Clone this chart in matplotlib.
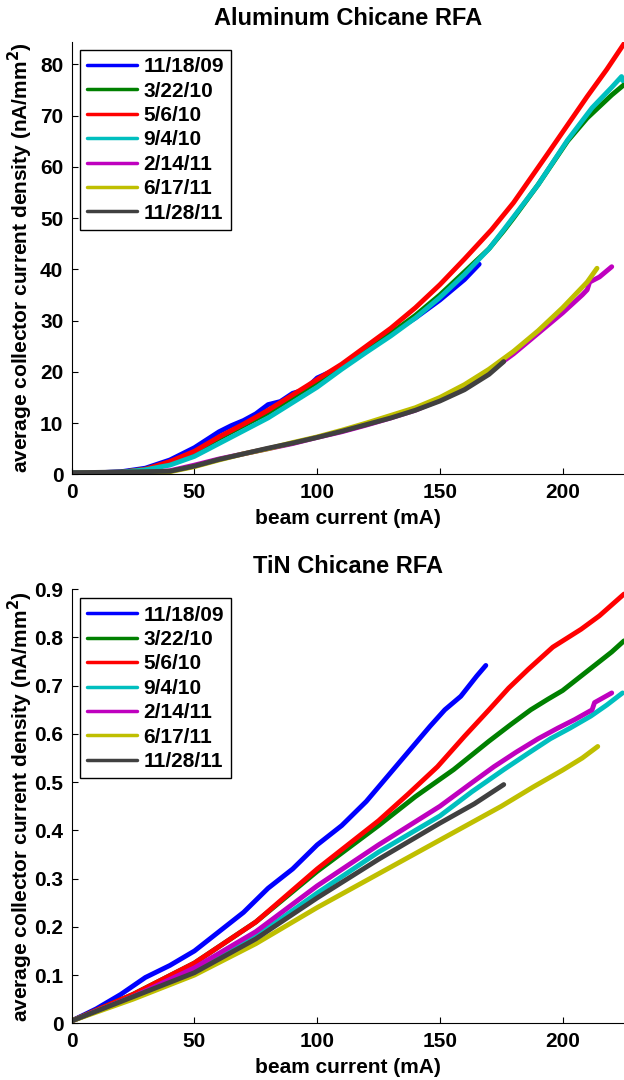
import numpy as np
import matplotlib.pyplot as plt

plt.rcParams['font.family'] = ['Liberation Sans', 'DejaVu Sans']
plt.rcParams['font.weight'] = 'bold'
plt.rcParams['font.size'] = 15
plt.rcParams['mathtext.default'] = 'bf'

labels = ['11/18/09', '3/22/10', '5/6/10', '9/4/10', '2/14/11', '6/17/11', '11/28/11']
colors = [(0, 0, 1), (0, 0.5, 0), (1, 0, 0), (0, 0.75, 0.75),
          (0.75, 0, 0.75), (0.75, 0.75, 0), (0.25, 0.25, 0.25)]

# Aluminum chicane RFA: beam current (mA) vs collector current density (nA/mm^2)
al_x = [
    [0, 10, 20, 30, 40, 50, 60, 65, 70, 75, 80, 85, 90, 95, 100, 110, 120, 130, 140, 150, 160, 166],
    [0, 20, 30, 40, 50, 60, 70, 80, 90, 100, 110, 120, 130, 140, 150, 160, 170, 176, 180, 190, 202, 210, 220, 225],
    [0, 20, 30, 40, 50, 60, 70, 80, 90, 100, 110, 120, 130, 140, 150, 160, 171, 180, 194, 210, 218, 225],
    [0, 20, 30, 40, 50, 60, 70, 80, 90, 100, 110, 120, 130, 140, 150, 160, 170, 176, 190, 202, 212, 220, 224, 224.5],
    [0, 30, 40, 50, 60, 70, 80, 90, 100, 110, 120, 130, 140, 150, 160, 170, 180, 190, 200, 208, 210, 211, 215, 220],
    [0, 40, 50, 60, 70, 80, 90, 100, 110, 120, 130, 140, 150, 160, 170, 180, 190, 200, 210, 214],
    [0, 40, 50, 60, 70, 80, 90, 100, 110, 120, 130, 140, 150, 160, 170, 176],
]
al_y = [
    [0.3, 0.3, 0.5, 1.2, 2.8, 5.2, 8.3, 9.5, 10.5, 11.8, 13.6, 14.2, 15.8, 16.5, 18.8, 21, 24, 27.5, 30.5, 34, 38, 41],
    [0.3, 0.4, 1.0, 2.3, 4.3, 7.0, 9.5, 12, 15, 18, 21, 24, 27.5, 31, 35, 39.5, 44, 47.5, 50, 56.5, 65, 69.5, 74, 76],
    [0.3, 0.4, 1.0, 2.5, 4.5, 7.3, 9.8, 12.5, 15.5, 18.5, 21.5, 25, 28.5, 32.5, 37, 42, 47.7, 53, 62.6, 73.7, 79, 84],
    [0.3, 0.4, 0.9, 1.8, 3.5, 6.0, 8.5, 11, 14, 17, 20.5, 23.8, 27, 30.5, 34.5, 39, 44, 47.7, 56.5, 65.2, 71.5, 75.5, 77.6, 76.8],
    [0.2, 0.3, 0.7, 1.8, 3.0, 4.0, 5.0, 6.0, 7.2, 8.3, 9.6, 11, 12.5, 14.5, 17, 20, 23.5, 27.5, 31.5, 35, 36, 37.5, 38.5, 40.5],
    [0.2, 0.5, 1.5, 2.8, 4.0, 5.0, 6.2, 7.3, 8.6, 10, 11.5, 13, 15, 17.5, 20.5, 24, 28, 32.5, 37.5, 40.2],
    [0.3, 0.6, 1.6, 2.9, 4.0, 5.1, 6.1, 7.2, 8.4, 9.7, 11, 12.5, 14.3, 16.5, 19.5, 22],
]

# TiN chicane RFA
tin_x = [
    [0, 10, 20, 30, 40, 50, 60, 70, 80, 90, 100, 110, 120, 131, 140, 146, 152, 158.5, 165, 168.7],
    [0, 25, 50, 75, 100, 125, 140, 155.6, 170, 179, 187, 194, 200, 210, 220, 225],
    [0, 25, 50, 75, 100, 125, 137, 149, 160, 170, 178, 186, 196, 207.5, 215, 225],
    [0, 25, 50, 75, 100, 125, 150, 163, 176, 186, 195, 203, 211.5, 218, 224.4],
    [0, 25, 50, 75, 100, 125, 150, 162, 172, 181, 190, 198, 205, 212, 213, 220],
    [0, 25, 50, 75, 100, 125, 150, 175, 188, 200, 208, 214.3],
    [0, 25, 50, 75, 100, 125, 150, 164, 176],
]
tin_y = [
    [0.005, 0.03, 0.06, 0.095, 0.12, 0.15, 0.19, 0.23, 0.28, 0.32, 0.37, 0.41, 0.46, 0.526, 0.58, 0.616, 0.65, 0.678, 0.72, 0.742],
    [0.005, 0.06, 0.125, 0.21, 0.315, 0.41, 0.47, 0.526, 0.585, 0.62, 0.65, 0.672, 0.69, 0.73, 0.77, 0.793],
    [0.005, 0.06, 0.125, 0.21, 0.32, 0.42, 0.475, 0.532, 0.595, 0.65, 0.695, 0.734, 0.78, 0.817, 0.845, 0.89],
    [0.005, 0.055, 0.11, 0.18, 0.27, 0.355, 0.43, 0.48, 0.526, 0.56, 0.59, 0.612, 0.637, 0.66, 0.685],
    [0.005, 0.055, 0.115, 0.19, 0.285, 0.37, 0.45, 0.495, 0.532, 0.562, 0.59, 0.612, 0.63, 0.65, 0.665, 0.685],
    [0.005, 0.05, 0.1, 0.165, 0.24, 0.31, 0.38, 0.45, 0.49, 0.525, 0.55, 0.574],
    [0.005, 0.055, 0.105, 0.175, 0.26, 0.34, 0.415, 0.455, 0.495],
]

fig = plt.figure(figsize=(6.24, 10.8), dpi=100)
ax1 = fig.add_axes([0.1149, 0.5608, 0.8851, 0.4006])
ax2 = fig.add_axes([0.1149, 0.0525, 0.8851, 0.4019])


def draw(ax, xs, ys, title, ylim, yticks, ytl, leg_top):
    for x, y, c, lab in zip(xs, ys, colors, labels):
        ax.plot(x, y, color=c, lw=3.5, label=lab, solid_capstyle='round')
    ax.set_xlim(0, 225)
    ax.set_ylim(*ylim)
    ax.set_xticks([0, 50, 100, 150, 200])
    ax.set_yticks(yticks)
    ax.set_yticklabels(ytl)
    ax.spines['top'].set_visible(False)
    ax.spines['right'].set_visible(False)
    ax.tick_params(direction='in', length=4, width=0.8, pad=6)
    ax.set_title(title, fontsize=17, fontweight='bold', pad=12)
    ax.set_xlabel('beam current (mA)', fontweight='bold')
    ax.set_ylabel('average collector current density (nA/mm$^2$)', fontweight='bold')
    ax.xaxis.set_label_coords(0.5, -0.08)
    ax.yaxis.set_label_coords(-0.066, 0.5)
    leg = ax.legend(loc='upper left', bbox_to_anchor=(0.015, leg_top), borderaxespad=0,
                    fancybox=False, edgecolor='black', framealpha=1,
                    handlelength=2.4, handletextpad=0.3, borderpad=0.35,
                    labelspacing=0.26)
    leg.get_frame().set_linewidth(1.0)
    for h in leg.get_lines():
        h.set_linewidth(2.5)


draw(ax1, al_x, al_y, 'Aluminum Chicane RFA', (0, 84.4),
     [0, 10, 20, 30, 40, 50, 60, 70, 80], ['0', '10', '20', '30', '40', '50', '60', '70', '80'], 0.981)
draw(ax2, tin_x, tin_y, 'TiN Chicane RFA', (0, 0.9),
     np.arange(0, 0.91, 0.1), ['0', '0.1', '0.2', '0.3', '0.4', '0.5', '0.6', '0.7', '0.8', '0.9'], 0.979)

fig.savefig('out.png', dpi=100)
